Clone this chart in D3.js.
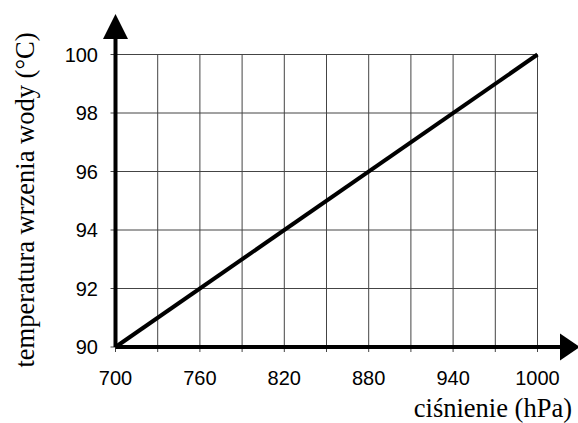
<!DOCTYPE html>
<html>
<head>
<meta charset="utf-8">
<script src="https://cdn.jsdelivr.net/npm/d3@7"></script>
<style>
  html, body { margin: 0; padding: 0; background: #fff; }
  .sans  { font-family: "Liberation Sans", Arial, sans-serif; font-size: 20px; }
  .serif { font-family: "Liberation Serif", "Times New Roman", serif; font-size: 26.5px; }
</style>
</head>
<body>
<div id="chart"></div>
<script>
// boiling point of water vs pressure
const pressure    = [700, 1000];
const temperature = [90, 100];
const xTicks      = [700, 760, 820, 880, 940, 1000];
const xGrid       = [700, 730, 760, 790, 820, 850, 880, 910, 940, 970, 1000];
const yTicks      = [90, 92, 94, 96, 98, 100];
const xTitle      = 'ci\u015Bnienie (hPa)';
const yTitle      = 'temperatura wrzenia wody (\u00B0C)';

const W = 578, H = 423;
const svg = d3.select('#chart').append('svg')
  .attr('width', W).attr('height', H);

const x = d3.scaleLinear().domain([700, 1000]).range([115.5, 537.5]);
const y = d3.scaleLinear().domain([90, 100]).range([347, 54.5]);

/* -------- grid -------- */
const grid = svg.append('g').attr('stroke', '#444').attr('stroke-width', 1);
grid.selectAll('.vx').data(xGrid).enter().append('line')
  .attr('x1', d => x(d)).attr('x2', d => x(d))
  .attr('y1', y(100)).attr('y2', y(90) + 5);
grid.selectAll('.hy').data(yTicks).enter().append('line')
  .attr('y1', d => y(d)).attr('y2', d => y(d))
  .attr('x1', x(700) - 5).attr('x2', x(1000));

/* -------- tick labels -------- */
svg.append('g').selectAll('text').data(xTicks).enter().append('text')
  .attr('class', 'sans')
  .attr('x', d => x(d)).attr('y', 385)
  .attr('text-anchor', 'middle')
  .text(d => d);

svg.append('g').selectAll('text').data(yTicks).enter().append('text')
  .attr('class', 'sans')
  .attr('x', 98).attr('y', d => y(d)).attr('dy', '0.35em')
  .attr('text-anchor', 'end')
  .text(d => d);

/* -------- axes with arrows -------- */
const ax = svg.append('g').attr('stroke', '#000').attr('stroke-width', 4);
ax.append('line').attr('x1', x(700)).attr('x2', 562)
  .attr('y1', y(90)).attr('y2', y(90));
ax.append('line').attr('x1', x(700)).attr('x2', x(700))
  .attr('y1', y(90)).attr('y2', 38);
svg.append('path')
  .attr('d', `M${x(700) - 12.5},39 L${x(700) + 12.5},39 L${x(700)},14 Z`)
  .attr('fill', '#000');
svg.append('path')
  .attr('d', `M560,${y(90) - 13.5} L560,${y(90) + 13.5} L580,${y(90)} Z`)
  .attr('fill', '#000');

/* -------- data line -------- */
svg.append('path')
  .datum(pressure.map((p, i) => [p, temperature[i]]))
  .attr('fill', 'none').attr('stroke', '#000').attr('stroke-width', 4)
  .attr('d', d3.line().x(d => x(d[0])).y(d => y(d[1])));

/* -------- axis titles -------- */
svg.append('text')
  .attr('class', 'serif')
  .attr('x', 572).attr('y', 417)
  .attr('text-anchor', 'end')
  .text(xTitle);

svg.append('text')
  .attr('class', 'serif')
  .attr('transform', 'translate(34,200) rotate(-90)')
  .attr('text-anchor', 'middle')
  .text(yTitle);
</script>
</body>
</html>
